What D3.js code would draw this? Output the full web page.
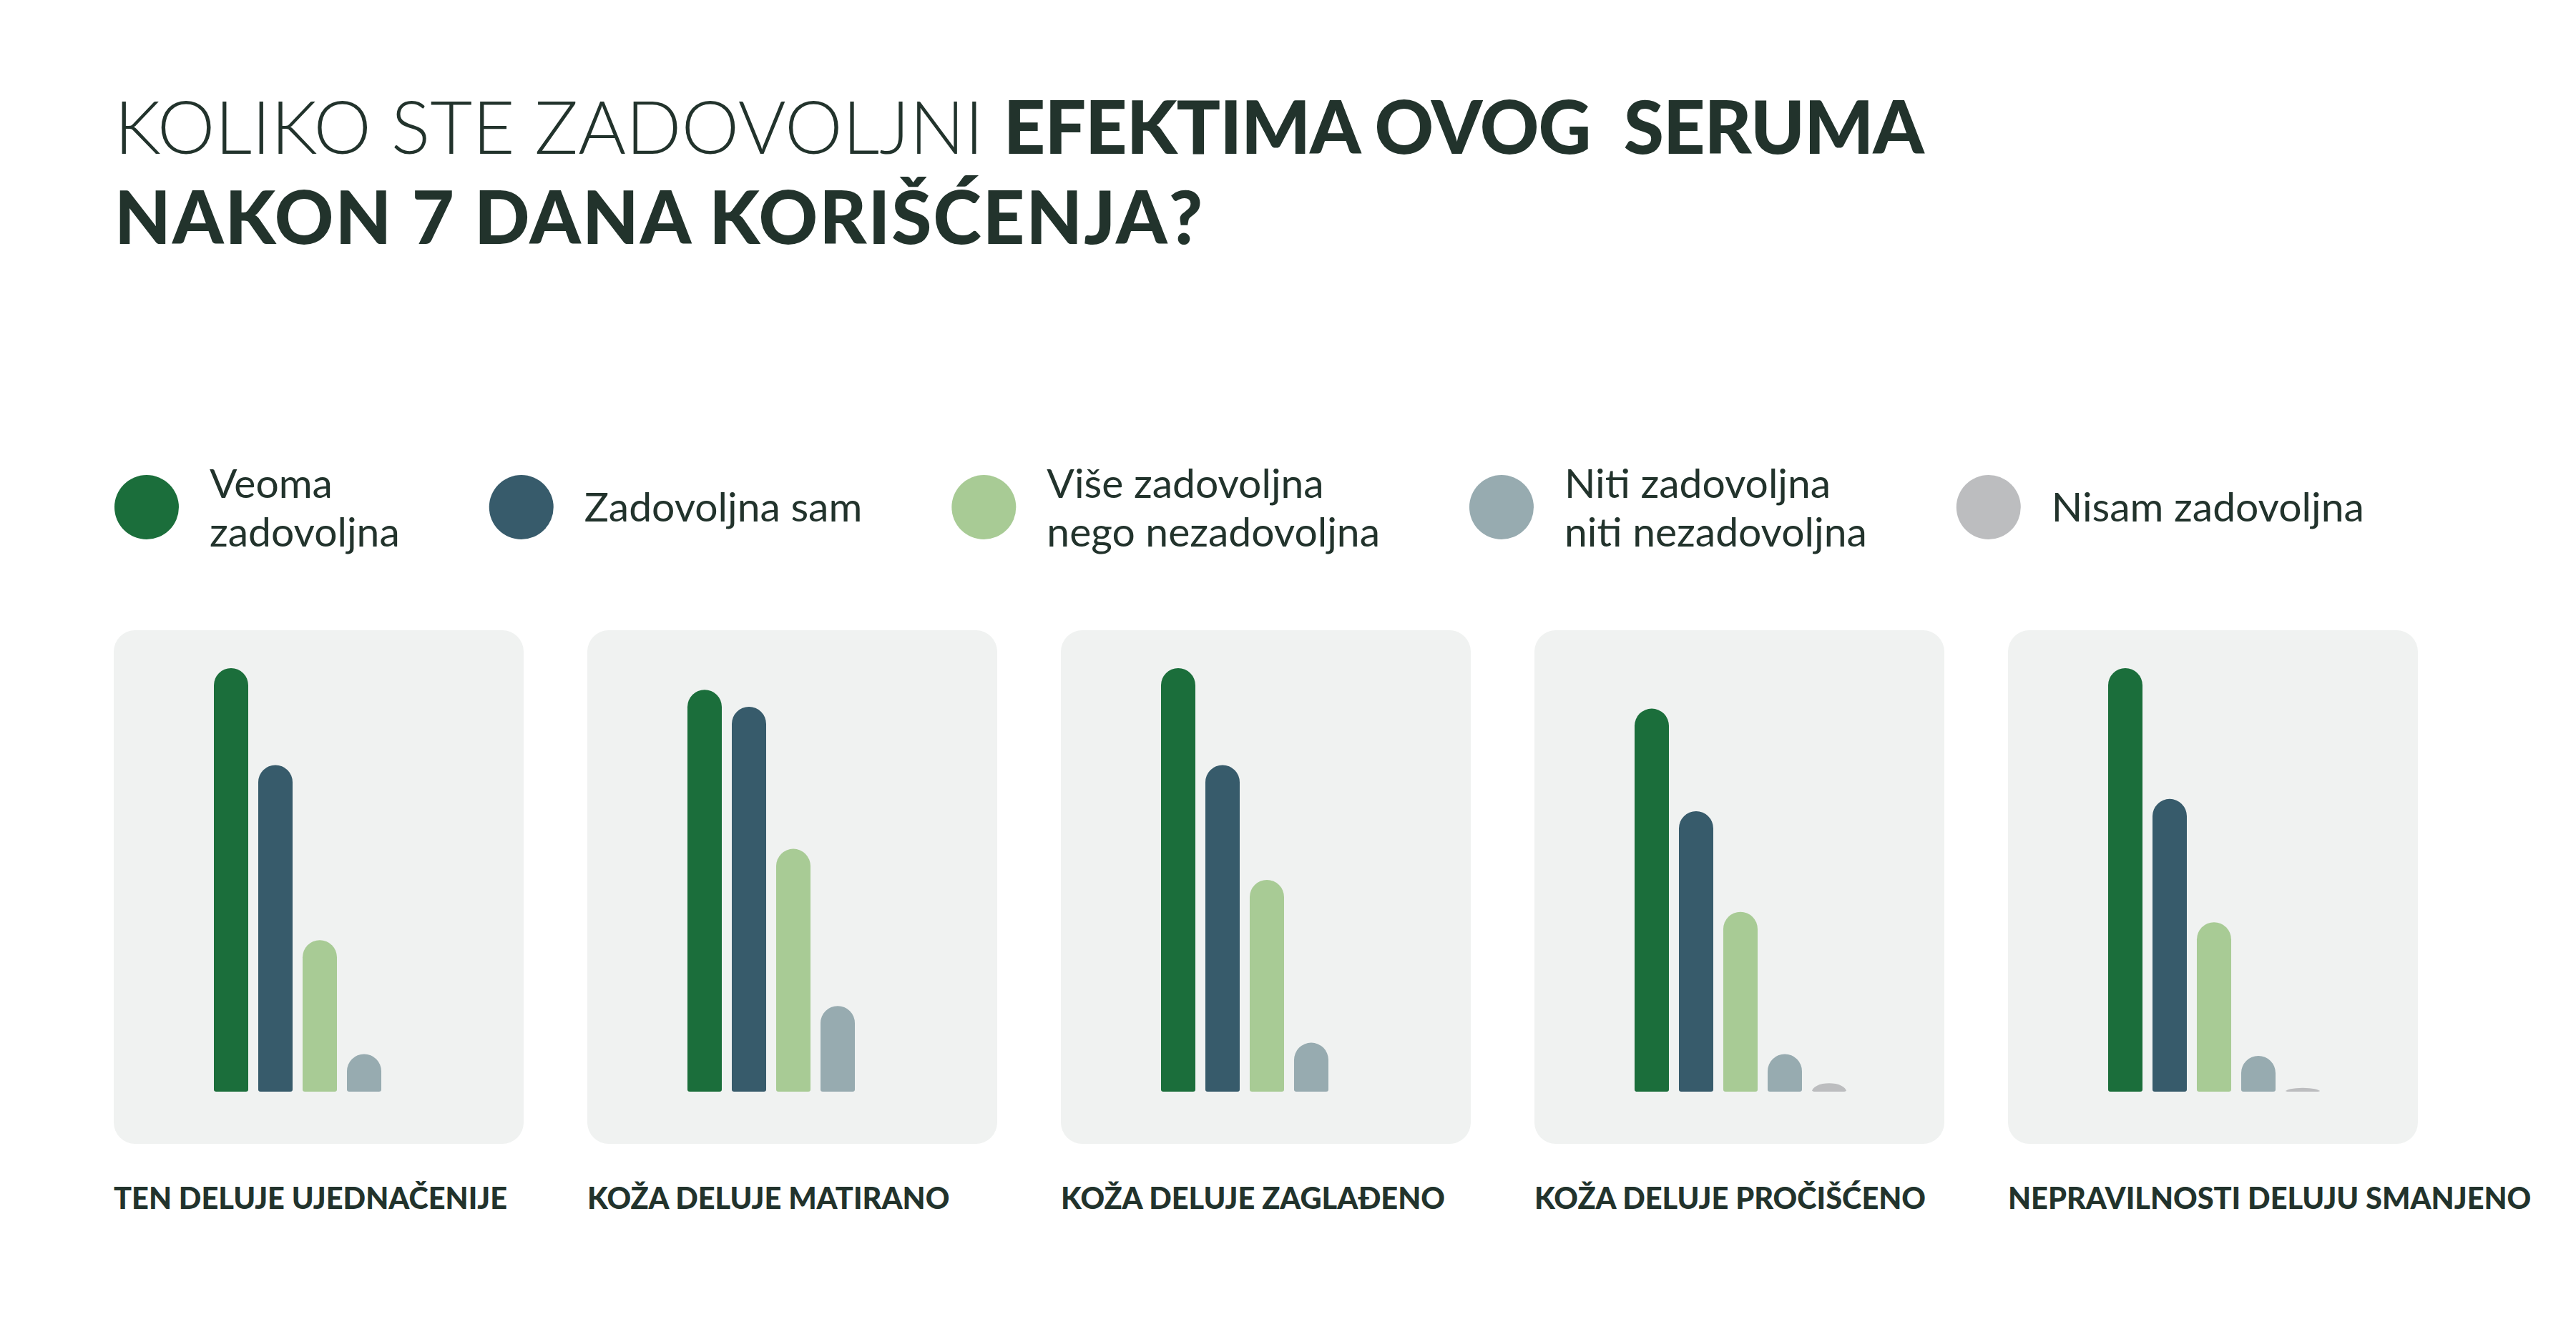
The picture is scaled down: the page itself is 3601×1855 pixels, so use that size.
<!DOCTYPE html>
<html>
<head>
<meta charset="utf-8">
<script src="https://cdn.jsdelivr.net/npm/d3@7"></script>
<style>
  html, body { margin: 0; padding: 0; background: #ffffff; }
  svg { display: block; }
</style>
</head>
<body>
<svg id="chart" width="3601" height="1855"></svg>
<script>
// categories (one panel each)
var categories = ["TEN DELUJE UJEDNAČENIJE", "KOŽA DELUJE MATIRANO", "KOŽA DELUJE ZAGLAĐENO", "KOŽA DELUJE PROČIŠĆENO", "NEPRAVILNOSTI DELUJU SMANJENO"];

// answer options, legend text split in lines
var seriesNames = ["Veoma zadovoljna", "Zadovoljna sam", "Više zadovoljna nego nezadovoljna", "Niti zadovoljna niti nezadovoljna", "Nisam zadovoljna"];
var legendLines = [["Veoma", "zadovoljna"], ["Zadovoljna sam"], ["Više zadovoljna", "nego nezadovoljna"], ["Niti zadovoljna", "niti nezadovoljna"], ["Nisam zadovoljna"]];

// values per answer, in category order (share of answers, %)
var veomaZadovoljna = [45.0, 42.7, 45.0, 40.7, 45.0];
var zadovoljnaSam = [34.7, 40.9, 34.7, 29.8, 31.1];
var viseZadovoljna = [16.1, 25.8, 22.5, 19.1, 18.0];
var nitiZadovoljna = [4.0, 9.1, 5.2, 4.0, 3.8];
var nisamZadovoljna = [0, 0, 0, 0.9, 0.4];

var seriesValues = [veomaZadovoljna, zadovoljnaSam, viseZadovoljna, nitiZadovoljna, nisamZadovoljna];
var colors = ["#1b6e3b", "#375b6b", "#a8cb95", "#97abb0", "#bcbdbf"];

var ink = "#22332c";
var svg = d3.select("#chart");

// ---- title ----
var title = svg.append("text")
	.attr("x", 160).attr("y", 215)
	.style("font-family", "Lato").style("font-size", "102px").style("fill", ink)
	.attr("xml:space", "preserve");
title.append("tspan").style("font-weight", 300).text("KOLIKO STE ZADOVOLJNI ");
title.append("tspan").style("font-weight", 900).style("letter-spacing", "-1px").text("EFEKTIMA OVOG  SERUMA");
svg.append("text")
	.attr("x", 160).attr("y", 341)
	.style("font-family", "Lato").style("font-size", "102px").style("font-weight", 900).style("fill", ink)
	.style("letter-spacing", "2px")
	.text("NAKON 7 DANA KORIŠĆENJA?");

// ---- legend (flows left to right) ----
var lx = 205; //center of first dot
legendLines.forEach(function(lines, i){
	var g = svg.append("g").attr("transform", "translate(" + lx + ",709)");
	g.append("circle").attr("r", 45).style("fill", colors[i]);
	var t = g.append("text")
		.style("font-family", "Lato").style("font-size", "57px").style("fill", ink);
	lines.forEach(function(l, k){
		var dy = lines.length == 1 ? 20 : (k == 0 ? -13 : 55);
		t.append("tspan").attr("x", 88).attr("y", dy).text(l);
	});
	var w = t.node().getBBox().width;
	lx += 88 + w + 170;
});

// ---- panels ----
var xPanel = d3.scaleBand().domain(categories).range([159, 3380]).paddingInner(0.1344);
var xBar = d3.scaleBand().domain(seriesNames).range([140, 436]).paddingInner(0.2258);
var y = d3.scaleLinear().domain([0, 45]).range([1526, 934]);

// bar with round top, small rounded bottom corners
function barPath(x, w, y0, y1){
	var h = y0 - y1;
	var r = w / 2;
	var ry = Math.min(r, h);
	var rb = Math.min(3, h / 2);
	return "M" + x + "," + (y0 - rb) +
		"L" + x + "," + (y1 + ry) +
		"A" + r + "," + ry + " 0 0 1 " + (x + w) + "," + (y1 + ry) +
		"L" + (x + w) + "," + (y0 - rb) +
		"Q" + (x + w) + "," + y0 + " " + (x + w - rb) + "," + y0 +
		"L" + (x + rb) + "," + y0 +
		"Q" + x + "," + y0 + " " + x + "," + (y0 - rb) + "Z";
}

var panels = svg.selectAll("g.panel").data(categories).enter().append("g")
	.attr("class", "panel")
	.attr("transform", function(d){ return "translate(" + xPanel(d) + ",0)"; });

panels.append("rect")
	.attr("x", 0).attr("y", 881)
	.attr("width", xPanel.bandwidth()).attr("height", 718)
	.attr("rx", 30).attr("ry", 30)
	.style("fill", "#f0f2f1");

panels.each(function(cat, ci){
	var vals = seriesNames.map(function(s, si){ return {s: s, v: seriesValues[si][ci], c: colors[si]}; })
		.filter(function(d){ return d.v > 0; });
	d3.select(this).selectAll("path.bar").data(vals).enter().append("path")
		.attr("class", "bar")
		.attr("d", function(d){ return barPath(xBar(d.s), xBar.bandwidth(), y(0), y(d.v)); })
		.style("fill", function(d){ return d.c; });
});

panels.append("text")
	.attr("x", 0).attr("y", 1690)
	.style("font-family", "Lato").style("font-size", "41.5px").style("font-weight", 900).style("fill", ink)
	.text(function(d){ return d; });
</script>
</body>
</html>
